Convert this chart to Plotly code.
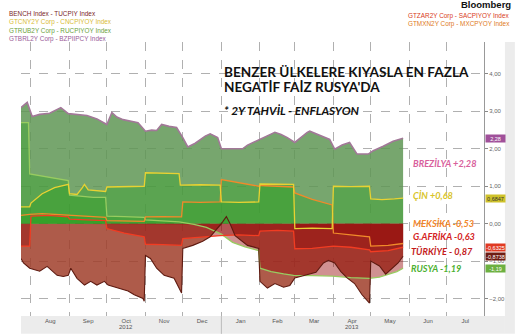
import plotly.graph_objects as go
import numpy as np

# ---------------- data ----------------
bz_dates = ["2012-07-24", "2012-07-29", "2012-08-02", "2012-08-08", "2012-08-16", "2012-08-25", "2012-08-31",
            "2012-09-07", "2012-09-15", "2012-09-23", "2012-10-01", "2012-10-05", "2012-10-09", "2012-10-14",
            "2012-10-26", "2012-11-01", "2012-11-06", "2012-11-10", "2012-11-14", "2012-11-20", "2012-11-26",
            "2012-12-01", "2012-12-05", "2012-12-11", "2012-12-19", "2012-12-23", "2012-12-29", "2013-01-01",
            "2013-01-10", "2013-01-18", "2013-01-22", "2013-02-01", "2013-02-07", "2013-02-13", "2013-02-18",
            "2013-02-23", "2013-03-01", "2013-03-07", "2013-03-11", "2013-03-13", "2013-03-21", "2013-03-29",
            "2013-04-02", "2013-04-08", "2013-04-14", "2013-04-20", "2013-04-29", "2013-05-03", "2013-05-11",
            "2013-05-19", "2013-05-27"]
bz_vals = [3.10, 3.24, 2.86, 2.92, 2.95, 3.10, 2.94,
           2.92, 2.89, 2.80, 2.65, 2.97, 2.85, 2.78,
           2.70, 2.47, 2.50, 2.49, 2.65, 2.60, 2.57,
           2.30, 2.05, 2.15, 2.34, 2.40, 2.30, 2.00,
           1.99, 2.00, 2.10, 2.25, 2.35, 2.44, 2.38,
           2.30, 2.17, 2.34, 2.44, 2.47, 2.35, 2.25,
           1.99, 2.10, 2.17, 1.86, 1.86, 1.95, 2.07,
           2.20, 2.28]

cn_dates = ["2012-07-24", "2012-07-31", "2012-08-01", "2012-08-10", "2012-08-20", "2012-08-31", "2012-09-01",
            "2012-09-07", "2012-09-11", "2012-09-13", "2012-09-16", "2012-09-23", "2012-09-30", "2012-10-01",
            "2012-10-15", "2012-10-31", "2012-11-01", "2012-11-15", "2012-11-28", "2012-11-29", "2012-12-15",
            "2012-12-31", "2013-01-01", "2013-01-15", "2013-01-31", "2013-02-01", "2013-02-15", "2013-02-28",
            "2013-03-01", "2013-03-15", "2013-03-31", "2013-04-01", "2013-04-15", "2013-04-30", "2013-05-01",
            "2013-05-10", "2013-05-20", "2013-05-27"]
cn_vals = [0.45, 0.45, 0.55, 0.80, 0.96, 1.05, 0.80,
           0.78, 0.95, 1.05, 0.90, 0.88, 0.86, 0.98,
           0.99, 1.00, 1.36, 1.36, 1.34, 1.03, 1.04,
           1.03, 0.58, 0.57, 0.58, 1.06, 1.06, 1.05,
           -0.13, -0.12, -0.13, 1.00, 0.99, 1.00, 0.66,
           0.64, 0.66, 0.68]

ru_dates = ["2012-07-24", "2012-07-30", "2012-07-31", "2012-08-15", "2012-08-31", "2012-09-01", "2012-09-10",
            "2012-09-20", "2012-09-30", "2012-10-01", "2012-10-15", "2012-10-31", "2012-11-01", "2012-11-15",
            "2012-11-28", "2012-12-10", "2012-12-20", "2013-01-01", "2013-01-10", "2013-01-20", "2013-01-31",
            "2013-02-01", "2013-02-10", "2013-02-20", "2013-02-28", "2013-03-15", "2013-03-31", "2013-04-15",
            "2013-04-30", "2013-05-08", "2013-05-15", "2013-05-22", "2013-05-27"]
ru_vals = [2.70, 2.70, 1.33, 1.25, 1.15, 0.76, 0.74,
           0.70, 0.70, 0.20, 0.19, 0.17, 0.10, 0.08,
           0.05, -0.02, -0.10, -0.28, -0.50, -0.62, -0.72,
           -1.19, -1.28, -1.34, -1.38, -1.39, -1.40, -1.44,
           -1.46, -1.43, -1.36, -1.28, -1.19]

mx_dates = ["2012-07-24", "2012-07-31", "2012-08-10", "2012-08-20", "2012-08-31", "2012-09-15", "2012-09-30",
            "2012-10-01", "2012-10-15", "2012-10-31", "2012-11-01", "2012-11-15", "2012-11-30", "2012-12-01",
            "2012-12-15", "2012-12-31", "2013-01-01", "2013-01-15", "2013-01-31", "2013-02-01", "2013-02-15",
            "2013-02-28", "2013-03-01", "2013-03-15", "2013-03-31", "2013-04-01", "2013-04-15", "2013-04-30",
            "2013-05-01", "2013-05-15", "2013-05-27"]
mx_vals = [0.22, 0.25, 0.27, 0.25, 0.22, 0.20, 0.17,
           0.08, 0.07, 0.06, 0.18, 0.19, 0.18, 0.58,
           0.57, 0.58, 1.18, 1.10, 1.00, 1.02, 1.00,
           0.98, 0.82, 0.65, 0.50, -0.25, -0.30, -0.35,
           -0.60, -0.58, -0.53]

za_dates = ["2012-07-24", "2012-07-31", "2012-08-01", "2012-08-15", "2012-08-31", "2012-09-01", "2012-09-15",
            "2012-09-30", "2012-10-01", "2012-10-15", "2012-10-31", "2012-11-01", "2012-11-15", "2012-11-30",
            "2012-12-01", "2012-12-15", "2012-12-31", "2013-01-15", "2013-01-31", "2013-02-01", "2013-02-15",
            "2013-02-28", "2013-03-01", "2013-03-15", "2013-03-31", "2013-04-01", "2013-04-15", "2013-04-30",
            "2013-05-01", "2013-05-15", "2013-05-27"]
za_vals = [-0.60, -0.60, 0.20, 0.22, 0.18, 0.12, 0.10,
           0.08, -0.13, -0.25, -0.35, -0.55, -0.56, -0.58,
           -0.40, -0.36, -0.32, -0.30, -0.32, -0.20, -0.18,
           -0.20, -0.67, -0.66, -0.62, -0.60, -0.63, -0.70,
           -0.75, -0.72, -0.63]

tu_dates = ["2012-07-24", "2012-07-26", "2012-07-31", "2012-08-08", "2012-08-14", "2012-08-16", "2012-08-22",
            "2012-08-27", "2012-08-31", "2012-09-02", "2012-09-07", "2012-09-13", "2012-09-18", "2012-09-23",
            "2012-09-29", "2012-10-02", "2012-10-10", "2012-10-18", "2012-10-23", "2012-10-30", "2012-10-31",
            "2012-11-01", "2012-11-05", "2012-11-10", "2012-11-16", "2012-11-24", "2012-11-30", "2012-12-01",
            "2012-12-09", "2012-12-17", "2012-12-23", "2012-12-27", "2013-01-02", "2013-01-05", "2013-01-08",
            "2013-01-12", "2013-01-22", "2013-01-31", "2013-02-01", "2013-02-07", "2013-02-13", "2013-02-20",
            "2013-02-25", "2013-03-01", "2013-03-10", "2013-03-18", "2013-03-24", "2013-03-28", "2013-04-02",
            "2013-04-07", "2013-04-12", "2013-04-18", "2013-04-24", "2013-04-30", "2013-05-01", "2013-05-08",
            "2013-05-13", "2013-05-18", "2013-05-23", "2013-05-27"]
tu_vals = [-0.93, -1.05, -1.19, -1.27, -1.14, -1.20, -1.38,
           -1.41, -1.38, -1.19, -1.46, -1.64, -1.54, -1.64,
           -1.54, -1.64, -1.72, -1.80, -1.90, -2.00, -2.07,
           -0.85, -0.93, -1.19, -1.38, -1.46, -1.85, -0.66,
           -0.58, -0.47, -0.35, -0.20, 0.05, 0.19, 0.00,
           -0.32, -0.58, -0.66, -1.54, -1.72, -1.60, -1.70,
           -1.65, -1.45, -1.38, -1.30, -1.05, -0.98, -1.05,
           -1.28, -1.45, -1.60, -1.90, -2.12, -1.00, -1.13,
           -1.35, -1.20, -1.05, -0.87]

y_ticks = [-2, -1, 0, 1, 2, 3, 4]
box_vals = [2.28, 0.6847, -0.6325, -0.8738, -1.19]
box_text = ["2,28", "0,6847", "-0,6325", "-0,8738", "-1,19"]
box_colors = ["#a0509a", "#cfc22a", "#e03a22", "#6e1c12", "#6cb040"]
box_fcolors = ["white", "#333333", "white", "white", "white"]

# ---------------- figure ----------------
W, H = 517, 336
L, R, T, B = 21, 31, 42, 18
PW, PH = W - L - R, H - T - B


def px(x):
    return (x - L) / PW


def py(y):
    return (H - B - y) / PH


fig = go.Figure()

series = {
    "bz": (bz_dates, bz_vals, "#a27898", "rgba(95,150,85,0.85)", "rgba(150,10,10,0.45)"),
    "tu": (tu_dates, tu_vals, "#5e1a10", "rgba(40,160,30,0.35)", "rgba(160,62,42,0.85)"),
    "cn": (cn_dates, cn_vals, "#e8d232", "rgba(40,160,30,0.35)", "rgba(150,10,10,0.45)"),
    "ru": (ru_dates, ru_vals, "#98cc60", "rgba(40,160,30,0.35)", "rgba(150,10,10,0.45)"),
    "mx": (mx_dates, mx_vals, "#f08a2a", "rgba(40,160,30,0.35)", "rgba(150,10,10,0.45)"),
    "za": (za_dates, za_vals, "#f23c22", "rgba(40,160,30,0.35)", "rgba(150,10,10,0.45)"),
}

# fills (positive part green, negative part red)
for key in ["bz", "tu", "cn", "ru", "mx", "za"]:
    d, v, lc, pc, nc = series[key]
    v = np.array(v)
    pos = np.maximum(v, 0)
    neg = np.minimum(v, 0)
    if pos.max() > 0:
        fig.add_trace(go.Scatter(x=d, y=pos, mode="lines", line=dict(width=0),
                                 fill="tozeroy", fillcolor=pc, hoverinfo="skip"))
    if neg.min() < 0:
        fig.add_trace(go.Scatter(x=d, y=neg, mode="lines", line=dict(width=0),
                                 fill="tozeroy", fillcolor=nc, hoverinfo="skip"))

# lines on top
for key, w in [("ru", 1.3), ("mx", 1.3), ("za", 1.3), ("cn", 1.3), ("tu", 1.1), ("bz", 1.6)]:
    d, v, lc, pc, nc = series[key]
    fig.add_trace(go.Scatter(x=d, y=v, mode="lines", line=dict(color=lc, width=w)))

ann = []
# left legend (one block, one colour per line)
legend_left = [("BENCH Index - TUCPIY Index", "#7a1e1e"),
               ("GTCNY2Y Corp - CNCPIYOY Index", "#d9bb35"),
               ("GTRUB2Y Corp - RUCPIYOY Index", "#6c9f3c"),
               ("GTBRL2Y Corp - BZPIIPCY Index", "#9a5c98")]
ann.append(dict(xref="paper", yref="paper", x=px(7), y=py(7.5), xanchor="left", yanchor="top", align="left",
                text="<br>".join("<span style='color:%s'>%s</span>" % (c, t) for t, c in legend_left),
                showarrow=False, font=dict(family="Liberation Sans", size=6.4, color="#333")))
# right legend
legend_right = [("GTZAR2Y Corp - SACPIYOY Index", "#d83a22"),
                ("GTMXN2Y Corp - MXCPYOY Index", "#e07a22")]
ann.append(dict(xref="paper", yref="paper", x=px(514), y=py(9.5), xanchor="right", yanchor="top", align="left",
                text="<br>".join("<span style='color:%s'>%s</span>" % (c, t) for t, c in legend_right),
                showarrow=False, font=dict(family="Liberation Sans", size=6.4, color="#333")))
ann.append(dict(xref="paper", yref="paper", x=px(515), y=py(4.5), xanchor="right", yanchor="middle",
                text="<b>Bloomberg</b>", showarrow=False, font=dict(family="Liberation Sans", size=9.5, color="#111")))

# title block
for txt, yy, sz in [("<b>BENZER ÜLKELERE KIYASLA EN FAZLA</b>", 72, 13.6),
                    ("<b>NEGATİF FAİZ RUSYA'DA</b>", 87, 13.6),
                    ("<b><i>* 2Y TAHVİL - ENFLASYON</i></b>", 111, 11.8)]:
    ann.append(dict(xref="paper", yref="paper", x=px(223), y=py(yy), xanchor="left", yanchor="middle",
                    text=txt, showarrow=False, font=dict(family="Lato", size=sz, color="#111")))

# country labels
for txt, xx, yy, col in [("BREZİLYA +2,28", 413, 164, "#d8609c"),
                         ("ÇİN +0,68", 413, 197, "#d9c42a"),
                         ("MEKSİKA -0,53", 413, 225, "#f2852a"),
                         ("G.AFRİKA -0,63", 413, 238, "#d42222"),
                         ("TÜRKİYE - 0,87", 411, 253, "#c41c1c"),
                         ("RUSYA -1,19", 411, 270, "#4cb030")]:
    ann.append(dict(xref="paper", yref="paper", x=px(xx), y=py(yy), xanchor="left", yanchor="middle",
                    text="<b><i>" + txt + "</i></b>", showarrow=False,
                    font=dict(family="Lato", size=9.2, color=col)))

# value boxes on right axis
for val, txt, bc, fc in zip(box_vals, box_text, box_colors, box_fcolors):
    ann.append(dict(xref="paper", yref="y", x=px(487), y=val, xanchor="left", yanchor="middle",
                    text=txt, showarrow=False, bgcolor=bc, width=19, height=7, borderpad=0,
                    font=dict(family="Liberation Sans", size=5.5, color=fc)))

# year labels
for txt, d in [("2012", "2012-10-16"), ("2013", "2013-04-16")]:
    ann.append(dict(xref="x", yref="paper", x=d, y=py(329.5), xanchor="center", yanchor="middle",
                    text=txt, showarrow=False, font=dict(family="Liberation Sans", size=6, color="#555")))

shapes = [
    dict(type="rect", xref="paper", yref="paper", x0=0, x1=px(507), y0=py(318), y1=py(336),
         fillcolor="#ececec", line=dict(width=0), layer="below"),
    dict(type="rect", xref="paper", yref="paper", x0=px(507), x1=px(517), y0=py(42), y1=py(336),
         fillcolor="#ececec", line=dict(width=0), layer="below"),
    dict(type="line", xref="x", yref="paper", x0="2013-01-01", x1="2013-01-01", y0=py(318), y1=py(336),
         line=dict(color="#bbbbbb", width=1)),
]

fig.update_layout(
    width=W, height=H, margin=dict(l=L, r=R, t=T, b=B, pad=0),
    paper_bgcolor="white", plot_bgcolor="white", showlegend=False,
    separators=",.", annotations=ann, shapes=shapes,
    xaxis=dict(type="date", range=["2012-07-24", "2013-07-31"], dtick="M1", tick0="2012-08-01",
               ticklabelmode="period", tickformat="%b", showgrid=True, gridcolor="#b0b0b0",
               griddash="dash", gridwidth=1, tickfont=dict(family="Liberation Sans", size=6, color="#555"),
               ticks="", zeroline=False, showline=False, fixedrange=True),
    yaxis=dict(side="right", range=[-2.467, 4.854], tickvals=y_ticks, tickformat=".2f",
               tickfont=dict(family="Liberation Sans", size=6, color="#666"), ticks="outside", ticklen=3,
               tickcolor="#888", showline=True, linecolor="#999", linewidth=1, showgrid=True,
               gridcolor="#b0b0b0", griddash="dash", gridwidth=1, zeroline=False),
)

fig.write_html("out.html")
